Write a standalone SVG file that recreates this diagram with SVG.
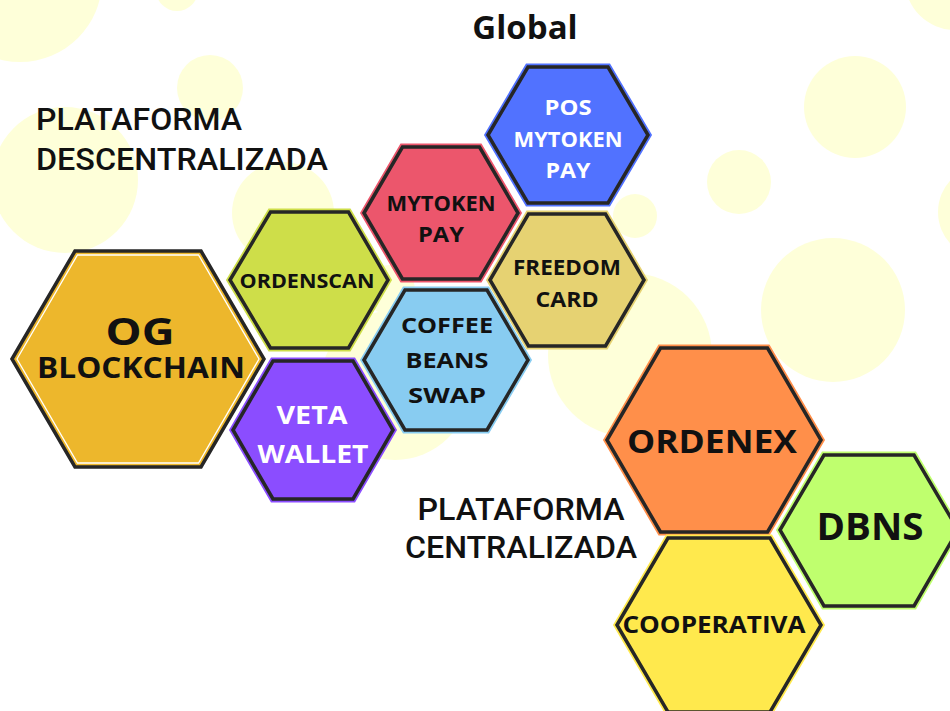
<svg xmlns="http://www.w3.org/2000/svg" width="950" height="711" viewBox="0 0 950 711">
<style>
.bg{fill:#FEFFD9}
.halo{stroke-width:7;stroke-linejoin:miter}
.edge{stroke:#262626;stroke-width:3.5;stroke-linejoin:miter}
.lbl{font-family:"Open Sans","Noto Sans",sans-serif;font-weight:700;text-anchor:middle;fill:#111}
.w{fill:#fff}
.plat{font-family:Roboto,"Liberation Sans",sans-serif;font-weight:500;font-size:32px;fill:#111}
</style>
<rect width="950" height="711" fill="#fff"/>
<g id="background">
<circle class="bg" cx="20" cy="-20" r="82"/>
<circle class="bg" cx="177" cy="-10" r="21"/>
<circle class="bg" cx="210" cy="88" r="33"/>
<circle class="bg" cx="65" cy="180" r="73"/>
<circle class="bg" cx="283" cy="213" r="51"/>
<circle class="bg" cx="955" cy="-20" r="50"/>
<circle class="bg" cx="855" cy="107" r="51"/>
<circle class="bg" cx="739" cy="182" r="32"/>
<circle class="bg" cx="635" cy="216" r="22"/>
<circle class="bg" cx="985" cy="212" r="47"/>
<circle class="bg" cx="833" cy="310" r="72"/>
<circle class="bg" cx="630" cy="355" r="82"/>
<circle class="bg" cx="395" cy="385" r="75"/>
<circle class="bg" cx="390" cy="290" r="25"/>
</g>
<text x="525" y="39" font-family="'Open Sans','Noto Sans',sans-serif" font-weight="700" font-size="33" text-anchor="middle" fill="#111">Global</text>
<text class="plat" x="36" y="130" textLength="206" lengthAdjust="spacingAndGlyphs">PLATAFORMA</text>
<text class="plat" x="36" y="170" textLength="292" lengthAdjust="spacingAndGlyphs">DESCENTRALIZADA</text>
<text class="plat" x="521" y="520" text-anchor="middle" textLength="207" lengthAdjust="spacingAndGlyphs">PLATAFORMA</text>
<text class="plat" x="521" y="558" text-anchor="middle" textLength="232" lengthAdjust="spacingAndGlyphs">CENTRALIZADA</text>
<g id="connectors"></g>
<g id="og-blockchain">
<polygon class="edge" fill="#EDB72C" stroke-width="4.5" points="12,359 75,251 201,251 264,359 201,467 75,467"/>
<polygon fill="none" stroke="#fff" stroke-width="1.3" points="17,359 77.5,255 198.5,255 259,359 198.5,463 77.5,463"/>
<text class="lbl" x="140" y="345" font-size="38" textLength="69" lengthAdjust="spacingAndGlyphs">OG</text>
<text class="lbl" x="141" y="378" font-size="28" textLength="208" lengthAdjust="spacingAndGlyphs">BLOCKCHAIN</text>
</g>
<g id="ordenscan">
<polygon class="halo" fill="#CEDE49" stroke="#CEDE49" points="230,280 270.5,212 348.5,212 388,280 348.5,348 270.5,348"/>
<polygon class="edge" fill="#CEDE49" points="230,280 270.5,212 348.5,212 388,280 348.5,348 270.5,348"/>
<text class="lbl" x="307" y="288" font-size="19" textLength="135" lengthAdjust="spacingAndGlyphs">ORDENSCAN</text>
</g>
<g id="veta-wallet">
<polygon class="halo" fill="#8B4DFF" stroke="#8B4DFF" points="233,430 273,361 353,361 393,430 353,499 273,499"/>
<polygon class="edge" fill="#8B4DFF" points="233,430 273,361 353,361 393,430 353,499 273,499"/>
<text class="lbl w" x="312" y="424" font-size="25" textLength="71" lengthAdjust="spacingAndGlyphs">VETA</text>
<text class="lbl w" x="313" y="463" font-size="25" textLength="111" lengthAdjust="spacingAndGlyphs">WALLET</text>
</g>
<g id="coffee-beans-swap">
<polygon class="halo" fill="#88CCF1" stroke="#88CCF1" points="364,360 405,290 487,290 528,360 487,430 405,430"/>
<polygon class="edge" fill="#88CCF1" points="364,360 405,290 487,290 528,360 487,430 405,430"/>
<text class="lbl" x="447" y="333" font-size="22" textLength="92" lengthAdjust="spacingAndGlyphs">COFFEE</text>
<text class="lbl" x="447" y="368" font-size="22" textLength="83" lengthAdjust="spacingAndGlyphs">BEANS</text>
<text class="lbl" x="447" y="403" font-size="22" textLength="78" lengthAdjust="spacingAndGlyphs">SWAP</text>
</g>
<g id="freedom-card">
<polygon class="halo" fill="#E6D272" stroke="#E6D272" points="490,280 528.5,214 605.5,214 644,280 605.5,346 528.5,346"/>
<polygon class="edge" fill="#E6D272" points="490,280 528.5,214 605.5,214 644,280 605.5,346 528.5,346"/>
<text class="lbl" x="567" y="275" font-size="21" textLength="108" lengthAdjust="spacingAndGlyphs">FREEDOM</text>
<text class="lbl" x="567" y="307" font-size="21" textLength="63" lengthAdjust="spacingAndGlyphs">CARD</text>
</g>
<g id="mytoken-pay">
<polygon class="halo" fill="#EC566C" stroke="#EC566C" points="364,213 402.5,147 479.5,147 518,213 479.5,279 402.5,279"/>
<polygon class="edge" fill="#EC566C" points="364,213 402.5,147 479.5,147 518,213 479.5,279 402.5,279"/>
<text class="lbl" x="441" y="211" font-size="22" textLength="109" lengthAdjust="spacingAndGlyphs">MYTOKEN</text>
<text class="lbl" x="441" y="242" font-size="22" textLength="46" lengthAdjust="spacingAndGlyphs">PAY</text>
</g>
<g id="pos-mytoken-pay">
<polygon class="halo" fill="#5172FF" stroke="#5172FF" points="488,135 528,67 608,67 648,135 608,203 528,203"/>
<polygon class="edge" fill="#5172FF" points="488,135 528,67 608,67 648,135 608,203 528,203"/>
<text class="lbl w" x="568" y="115" font-size="22" textLength="47" lengthAdjust="spacingAndGlyphs">POS</text>
<text class="lbl w" x="568" y="147" font-size="22" textLength="109" lengthAdjust="spacingAndGlyphs">MYTOKEN</text>
<text class="lbl w" x="568" y="178" font-size="22" textLength="45" lengthAdjust="spacingAndGlyphs">PAY</text>
</g>
<g id="ordenex">
<polygon class="halo" fill="#FF8F4A" stroke="#FF8F4A" points="607,440 660.5,348 767.5,348 821,440 767.5,532 660.5,532"/>
<polygon class="edge" fill="#FF8F4A" points="607,440 660.5,348 767.5,348 821,440 767.5,532 660.5,532"/>
<text class="lbl" x="712" y="453" font-size="33" textLength="170" lengthAdjust="spacingAndGlyphs">ORDENEX</text>
</g>
<g id="dbns">
<polygon class="halo" fill="#BFFF6E" stroke="#BFFF6E" points="780,530 824,455 914,455 958,530 914,606 824,606"/>
<polygon class="edge" fill="#BFFF6E" points="780,530 824,455 914,455 958,530 914,606 824,606"/>
<text class="lbl" x="870" y="540" font-size="37" textLength="107" lengthAdjust="spacingAndGlyphs">DBNS</text>
</g>
<g id="cooperativa">
<polygon class="halo" fill="#FFE94D" stroke="#FFE94D" points="617,625 668,538 770,538 821,625 770,712 668,712"/>
<polygon class="edge" fill="#FFE94D" points="617,625 668,538 770,538 821,625 770,712 668,712"/>
<text class="lbl" x="714" y="633" font-size="23" textLength="183" lengthAdjust="spacingAndGlyphs">COOPERATIVA</text>
</g>
</svg>
